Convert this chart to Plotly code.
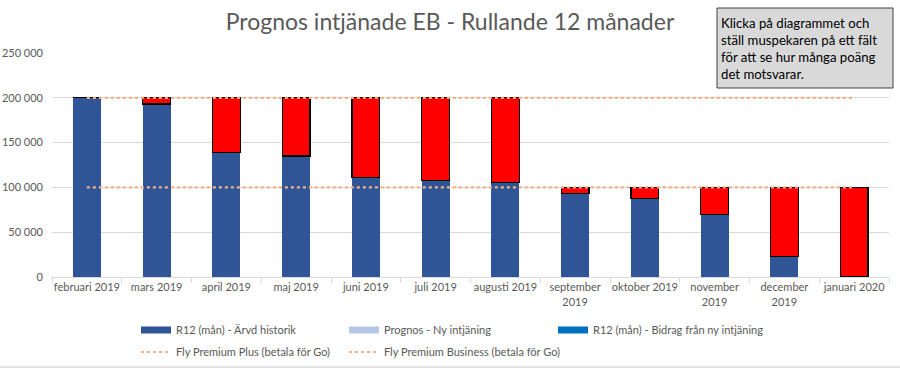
import plotly.graph_objects as go

months = ["februari 2019", "mars 2019", "april 2019", "maj 2019", "juni 2019", "juli 2019",
          "augusti 2019", "september 2019", "oktober 2019", "november 2019", "december 2019",
          "januari 2020"]
tick_labels = ["februari 2019", "mars 2019", "april 2019", "maj 2019", "juni 2019", "juli 2019",
               "augusti 2019", "september<br>2019", "oktober 2019", "november<br>2019",
               "december<br>2019", "januari 2020"]
arvd_historik = [200000, 193000, 139000, 135000, 111000, 108000, 105500, 93000, 88000, 70000, 22500, 0]
prognos_kvar = [0, 7000, 61000, 65000, 89000, 92000, 94500, 7000, 12000, 30000, 77500, 100000]
premium_plus = [100000] * 12
premium_business = [200000] * 12
y_ticks = [0, 50000, 100000, 150000, 200000, 250000]
y_tick_labels = ["0", "50 000", "100 000", "150 000", "200 000", "250 000"]

FONT = "Lato, Carlito, Calibri, sans-serif"
GREY = "#595959"

FIG_W, FIG_H = 900, 369
# plot area geometry in px
L, R_, T, B = 52, 889, 53, 277
W, H = R_ - L, B - T
px = lambda x: (x - L) / W
py = lambda y: (B - y) / H

fig = go.Figure()
fig.add_bar(x=months, y=arvd_historik, name="R12 (mån) - Ärvd historik",
            marker=dict(color="#2F5597", line=dict(width=0)), showlegend=False)
fig.add_bar(x=months, y=prognos_kvar, name="Prognos - kvar",
            marker=dict(color="#FF0000", line=dict(color="black", width=1.2)), showlegend=False)

# legend entries
fig.add_scatter(x=[None], y=[None], mode="lines", name="R12 (mån) - Ärvd historik",
                line=dict(color="#2F5597", width=7), legend="legend")
fig.add_scatter(x=[None], y=[None], mode="lines", name="Prognos - Ny intjäning",
                line=dict(color="#B4C7E7", width=7), legend="legend2")
fig.add_scatter(x=[None], y=[None], mode="lines", name="R12 (mån) - Bidrag från ny intjäning",
                line=dict(color="#0070C0", width=7), legend="legend3")

fig.add_scatter(x=months, y=premium_plus, mode="lines", name="Fly Premium Plus (betala för Go)",
                line=dict(color="#F4B183", width=2.2, dash="dot"), legend="legend4")
fig.add_scatter(x=months, y=premium_business, mode="lines", name="Fly Premium Business (betala för Go)",
                line=dict(color="#F4B183", width=2.2, dash="dot"), legend="legend5")

def leg(xp, yp):
    return dict(orientation="h", xanchor="left", yanchor="middle", x=px(xp), y=py(yp),
                font=dict(size=11, color=GREY), bgcolor="rgba(0,0,0,0)")

fig.update_layout(
    width=FIG_W, height=FIG_H,
    margin=dict(l=L, r=FIG_W - R_, t=T, b=FIG_H - B, autoexpand=False),
    barmode="stack", bargap=0.6,
    plot_bgcolor="white", paper_bgcolor="white",
    font=dict(family=FONT, size=11, color=GREY),
    title=dict(text="Prognos intjänade EB - Rullande 12 månader", x=0.5, xanchor="center",
               y=1 - 22 / FIG_H, yanchor="middle", font=dict(family=FONT, size=23, color=GREY)),
    xaxis=dict(type="category", tickmode="array", tickvals=months, ticktext=tick_labels,
               tickangle=0, showgrid=False, showline=True, linecolor="#D9D9D9", linewidth=1,
               ticks="outside", tickson="boundaries", ticklen=5, tickcolor="#D9D9D9",
               tickfont=dict(size=11, color=GREY)),
    yaxis=dict(range=[0, 250000], tickmode="array", tickvals=y_ticks, ticktext=y_tick_labels,
               showgrid=True, gridcolor="#D9D9D9", gridwidth=1, zeroline=False, showline=False,
               ticks="", ticklabelstandoff=8, tickfont=dict(size=11, color=GREY)),
    legend=leg(136, 330),
    legend2=leg(344, 330),
    legend3=leg(553, 330),
    legend4=leg(136, 352),
    legend5=leg(344, 352),
    shapes=[
        dict(type="rect", xref="paper", yref="paper", x0=px(717), x1=px(893), y0=py(88), y1=py(8),
             fillcolor="#D9D9D9", line=dict(color="#404040", width=1)),
        dict(type="line", xref="paper", yref="paper", x0=px(0), x1=px(900), y0=py(367), y1=py(367),
             line=dict(color="#D9D9D9", width=1.5)),
    ],
    annotations=[
        dict(xref="paper", yref="paper", x=px(719), y=py(13), xanchor="left", yanchor="top",
             showarrow=False, align="left",
             text="Klicka på diagrammet och<br>ställ muspekaren på ett fält<br>för att se hur många poäng<br>det motsvarar.",
             font=dict(family=FONT, size=13.2, color="black")),
    ],
)

fig.write_html("out.html", config={"displayModeBar": False},
               post_script="document.body.style.margin='0px';")
